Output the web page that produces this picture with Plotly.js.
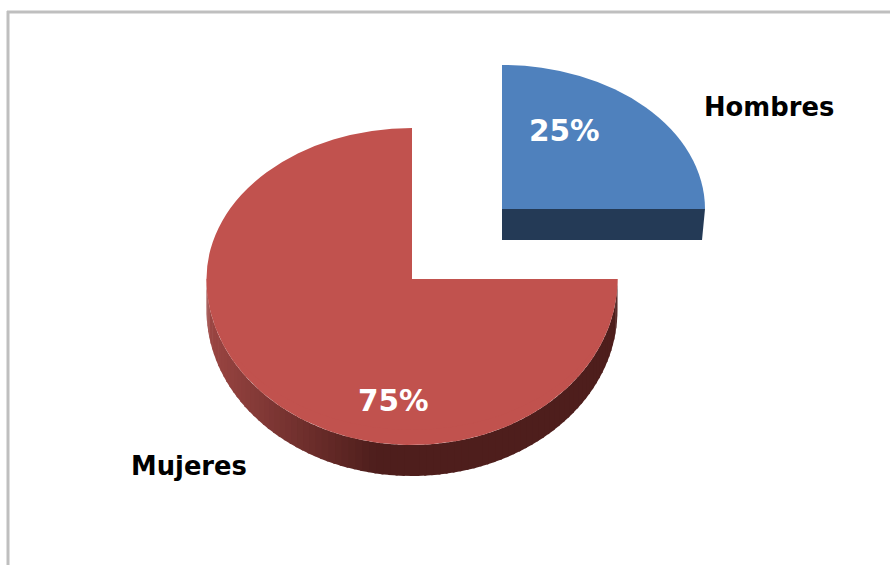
<!DOCTYPE html>
<html>
<head>
<meta charset="utf-8">
<script src="https://cdn.plot.ly/plotly-3.0.1.min.js"></script>
<style>html,body{margin:0;padding:0;background:#fff;overflow:hidden}</style>
</head>
<body>
<div id="chart" style="width:890px;height:565px"></div>
<script>
var categories = ['Hombres', 'Mujeres'];
var values = [25, 75];
var topColors = ['#4f81bd', '#c1524e'];
var wallColors = ['#243a56', '#4e1e1c'];
var W = 890, H = 565;

// Pixel geometry of the tilted, exploded pie (the near half of the large slice is a bit deeper: perspective)
var blue = {cx: 502, cy: 209, rx: 203, ry: 144, depth: 31};
var red  = {cx: 412, cy: 279, rx: 205.5, ry: 151, ryNear: 166, depth: 31};
var geoms = [blue, red];

var total = values.reduce(function (a, b) { return a + b; }, 0);
var transparent = 'rgba(0,0,0,0)';

function pieTrace(i) {
  var g = geoms[i];
  return {
    type: 'pie', labels: categories, values: values, sort: false,
    direction: 'clockwise', rotation: 0, textinfo: 'none', hoverinfo: 'skip',
    showlegend: false,
    marker: {
      colors: categories.map(function (_, k) { return k === i ? topColors[i] : transparent; }),
      line: {width: 0}
    },
    domain: {
      x: [(g.cx - g.rx) / W, (g.cx + g.rx) / W],
      y: [1 - (g.cy + g.rx) / H, 1 - (g.cy - g.rx) / H]
    }
  };
}

function mix(a, b, t) {
  return 'rgb(' + a.map(function (v, i) { return Math.round(v + (b[i] - v) * t); }).join(',') + ')';
}

// Visible rim of the large slice: clockwise from 3 o'clock to 9 o'clock
var startFrac = values[0] / total;
var a0 = Math.max(startFrac * 2 * Math.PI, Math.PI / 2);
var a1 = 1.5 * Math.PI;
function rimX(a) { return red.cx + red.rx * Math.sin(a); }
function rimY(a) { return red.cy - red.ryNear * Math.cos(a); }

// Side wall, as thin shaded strips along the rim
var strips = [];
(function () {
  var n = 90, light = [156, 70, 67], dark = [78, 30, 28];
  for (var s = 0; s < n; s++) {
    var p = a0 + (a1 - a0) * s / n, q = a0 + (a1 - a0) * (s + 1.3) / n;
    var f = (rimX(p) - red.cx + red.rx) / (2 * red.rx);
    var t = Math.min(1, f / 0.42);
    strips.push({
      type: 'scatter', mode: 'lines', hoverinfo: 'skip', showlegend: false,
      x: [rimX(p), rimX(q), rimX(q), rimX(p), rimX(p)],
      y: [rimY(p), rimY(q), rimY(q) + red.depth, rimY(p) + red.depth, rimY(p)],
      fill: 'toself', line: {width: 0}, fillcolor: mix(light, dark, t)
    });
  }
})();

// Near half of the large slice's top face
var nearFace = (function () {
  var xs = [], ys = [], n = 120;
  for (var s = 0; s <= n; s++) {
    var a = a0 + (a1 - a0) * s / n;
    xs.push(rimX(a)); ys.push(rimY(a));
  }
  return {
    type: 'scatter', mode: 'lines', hoverinfo: 'skip', showlegend: false,
    x: xs, y: ys, fill: 'toself', line: {width: 0}, fillcolor: topColors[1]
  };
})();

// Front face of the pulled-out slice
var blueWall = {
  type: 'scatter', mode: 'lines', hoverinfo: 'skip', showlegend: false,
  x: [blue.cx, blue.cx + blue.rx, blue.cx + blue.rx - 3, blue.cx, blue.cx],
  y: [blue.cy, blue.cy, blue.cy + blue.depth, blue.cy + blue.depth, blue.cy],
  fill: 'toself', line: {width: 0}, fillcolor: wallColors[0]
};

var frameColor = '#bfbfbf';
var layout = {
  width: W, height: H,
  margin: {l: 0, r: 0, t: 0, b: 0},
  paper_bgcolor: '#ffffff', plot_bgcolor: '#ffffff',
  showlegend: false,
  xaxis: {range: [0, W], visible: false, fixedrange: true},
  yaxis: {range: [H, 0], visible: false, fixedrange: true},
  shapes: [
    {type: 'line', xref: 'x', yref: 'y', x0: 8, x1: 8, y0: 11, y1: H, line: {color: frameColor, width: 3}},
    {type: 'line', xref: 'x', yref: 'y', x0: 7, x1: W, y0: 12, y1: 12, line: {color: frameColor, width: 3}}
  ],
  annotations: [
    {text: '<b>' + Math.round(values[0] / total * 100) + '%</b>', x: 564.5, y: 131, font: {color: '#fff', size: 29.5}},
    {text: '<b>' + Math.round(values[1] / total * 100) + '%</b>', x: 393, y: 401, font: {color: '#fff', size: 29.5}},
    {text: '<b>' + categories[0] + '</b>', x: 769, y: 107, font: {color: '#000', size: 25.8}},
    {text: '<b>' + categories[1] + '</b>', x: 189, y: 466, font: {color: '#000', size: 25.8}}
  ].map(function (a) {
    a.xref = 'x'; a.yref = 'y'; a.showarrow = false;
    a.xanchor = 'center'; a.yanchor = 'middle';
    a.font.family = '"DejaVu Sans", Verdana, sans-serif';
    return a;
  })
};

var traces = strips.concat([nearFace, blueWall, pieTrace(0), pieTrace(1)]);

Plotly.newPlot('chart', traces, layout, {staticPlot: true, displayModeBar: false}).then(function () {
  var groups = document.querySelectorAll('#chart .pielayer .trace');
  geoms.forEach(function (g, i) {
    if (groups[i]) {
      groups[i].setAttribute('transform',
        'translate(0,' + g.cy + ') scale(1,' + (g.ry / g.rx) + ') translate(0,' + (-g.cy) + ')');
    }
  });
});
</script>
</body>
</html>
